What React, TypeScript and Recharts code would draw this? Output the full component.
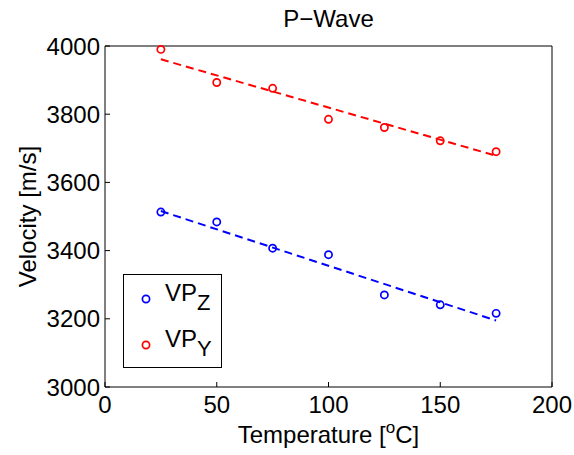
import React from "react";
import {
  ComposedChart,
  XAxis,
  YAxis,
  Scatter,
  Line,
  Label,
} from "recharts";

// measured temperatures [°C]
const temps = [25, 50, 75, 100, 125, 150, 175];
// P-wave velocities [m/s]
const vpZ = [3513, 3484, 3407, 3388, 3270, 3241, 3216];
const vpY = [3990, 3893, 3876, 3785, 3761, 3722, 3690];

// linear fit end points
const fitT = [25, 175];
const fitZ = [3516, 3195];
const fitY = [3961, 3678];

const xTicks = [0, 50, 100, 150, 200];
const yTicks = [3000, 3200, 3400, 3600, 3800, 4000];

const BLUE = "#0000ff";
const RED = "#ff0000";
const FONT = "'Liberation Sans', Arial, Helvetica, sans-serif";

const zData = temps.map((t, i) => ({ x: t, v: vpZ[i] }));
const yData = temps.map((t, i) => ({ x: t, v: vpY[i] }));
const zFit = fitT.map((t, i) => ({ x: t, v: fitZ[i] }));
const yFit = fitT.map((t, i) => ({ x: t, v: fitY[i] }));

const TICK = 5;

// MATLAB style: ticks point into the box
const BottomTick = (props: any) => {
  const { x, y, payload } = props;
  return (
    <g>
      <line x1={x} x2={x} y1={y} y2={y - TICK} stroke="#000" />
      <text x={x} y={y + 26} textAnchor="middle" fontSize={24} fill="#000" fontFamily={FONT}>
        {payload.value}
      </text>
    </g>
  );
};

const TopTick = (props: any) => {
  const { x, y } = props;
  return <line x1={x} x2={x} y1={y} y2={y + TICK} stroke="#000" />;
};

const LeftTick = (props: any) => {
  const { x, y, payload } = props;
  return (
    <g>
      <line x1={x} x2={x + TICK} y1={y} y2={y} stroke="#000" />
      <text x={x - 5} y={y + 8.5} textAnchor="end" fontSize={24} fill="#000" fontFamily={FONT}>
        {payload.value}
      </text>
    </g>
  );
};

const RightTick = (props: any) => {
  const { x, y } = props;
  return <line x1={x} x2={x - TICK} y1={y} y2={y} stroke="#000" />;
};

const Ring = (color: string) => (props: any) => {
  const { cx, cy } = props;
  return <circle cx={cx} cy={cy} r={3.6} fill="none" stroke={color} strokeWidth={1.7} />;
};

const LegendBox = () => {
  const items = [
    { color: BLUE, sub: "Z" },
    { color: RED, sub: "Y" },
  ];
  return (
    <div
      style={{
        position: "absolute",
        left: 123,
        top: 274,
        width: 97,
        height: 92,
        border: "1px solid #000",
        background: "#fff",
        fontFamily: FONT,
      }}
    >
      {items.map((it) => (
        <div key={it.sub} style={{ position: "relative", height: 46 }}>
          <svg width={30} height={46} style={{ position: "absolute", left: 10, top: 0 }}>
            <circle cx={12} cy={24} r={3.6} fill="none" stroke={it.color} strokeWidth={1.7} />
          </svg>
          <span
            style={{
              position: "absolute",
              left: 41,
              top: 4,
              fontSize: 24,
              color: "#000",
              lineHeight: "28px",
              whiteSpace: "nowrap",
            }}
          >
            VP
            <span style={{ fontSize: 22, position: "relative", top: 9 }}>{it.sub}</span>
          </span>
        </div>
      ))}
    </div>
  );
};

export default function App() {
  return (
    <div style={{ position: "absolute", left: 0, top: 0, width: 574, height: 455, fontFamily: FONT }}>
      <ComposedChart
        width={574}
        height={455}
        margin={{ top: 45, right: 0, bottom: 0, left: 0 }}
      >
        <XAxis
          xAxisId="bottom"
          dataKey="x"
          type="number"
          domain={[0, 200]}
          ticks={xTicks}
          height={68}
          tickSize={0}
          tickMargin={0}
          tickLine={false}
          axisLine={{ stroke: "#000" }}
          tick={<BottomTick />}
          interval={0}
        >
          <Label
            content={(p: any) => {
              const vb = p.viewBox;
              return (
                <text
                  x={vb.x + vb.width / 2}
                  y={vb.y + 56}
                  textAnchor="middle"
                  fontSize={24}
                  fill="#000"
                  fontFamily={FONT}
                >
                  Temperature [
                  <tspan fontSize={17} dy={-10}>o</tspan>
                  <tspan dy={10}>C]</tspan>
                </text>
              );
            }}
          />
        </XAxis>
        <XAxis
          xAxisId="top"
          orientation="top"
          type="number"
          domain={[0, 200]}
          ticks={xTicks}
          height={1}
          tickSize={0}
          tickMargin={0}
          tickLine={false}
          axisLine={{ stroke: "#000" }}
          tick={<TopTick />}
          interval={0}
        >
          <Label
            content={(p: any) => {
              const vb = p.viewBox;
              return (
                <text
                  x={vb.x + vb.width / 2}
                  y={vb.y + vb.height - 19}
                  textAnchor="middle"
                  fontSize={24}
                  fill="#000"
                  fontFamily={FONT}
                >
                  P−Wave
                </text>
              );
            }}
          />
        </XAxis>
        <YAxis
          yAxisId="left"
          type="number"
          domain={[3000, 4000]}
          ticks={yTicks}
          width={105}
          tickSize={0}
          tickMargin={0}
          tickLine={false}
          axisLine={{ stroke: "#000" }}
          tick={<LeftTick />}
          interval={0}
        >
          <Label
            content={(p: any) => {
              const vb = p.viewBox;
              const cx = vb.x + 36;
              const cy = vb.y + vb.height / 2;
              return (
                <text
                  x={cx}
                  y={cy}
                  transform={`rotate(-90 ${cx} ${cy})`}
                  textAnchor="middle"
                  fontSize={24}
                  fill="#000"
                  fontFamily={FONT}
                >
                  Velocity [m/s]
                </text>
              );
            }}
          />
        </YAxis>
        <YAxis
          yAxisId="right"
          orientation="right"
          type="number"
          domain={[3000, 4000]}
          ticks={yTicks}
          width={22}
          tickSize={0}
          tickMargin={0}
          tickLine={false}
          axisLine={{ stroke: "#000" }}
          tick={<RightTick />}
          interval={0}
        />

        <Line
          xAxisId="bottom"
          yAxisId="left"
          data={zFit}
          dataKey="v"
          stroke={BLUE}
          strokeWidth={2}
          strokeDasharray="8 5"
          dot={false}
          isAnimationActive={false}
        />
        <Line
          xAxisId="bottom"
          yAxisId="left"
          data={yFit}
          dataKey="v"
          stroke={RED}
          strokeWidth={2}
          strokeDasharray="8 5"
          dot={false}
          isAnimationActive={false}
        />
        <Scatter
          xAxisId="bottom"
          yAxisId="left"
          name="VPZ"
          data={zData}
          dataKey="v"
          shape={Ring(BLUE)}
          isAnimationActive={false}
        />
        <Scatter
          xAxisId="bottom"
          yAxisId="left"
          name="VPY"
          data={yData}
          dataKey="v"
          shape={Ring(RED)}
          isAnimationActive={false}
        />
      </ComposedChart>
      <LegendBox />
    </div>
  );
}
